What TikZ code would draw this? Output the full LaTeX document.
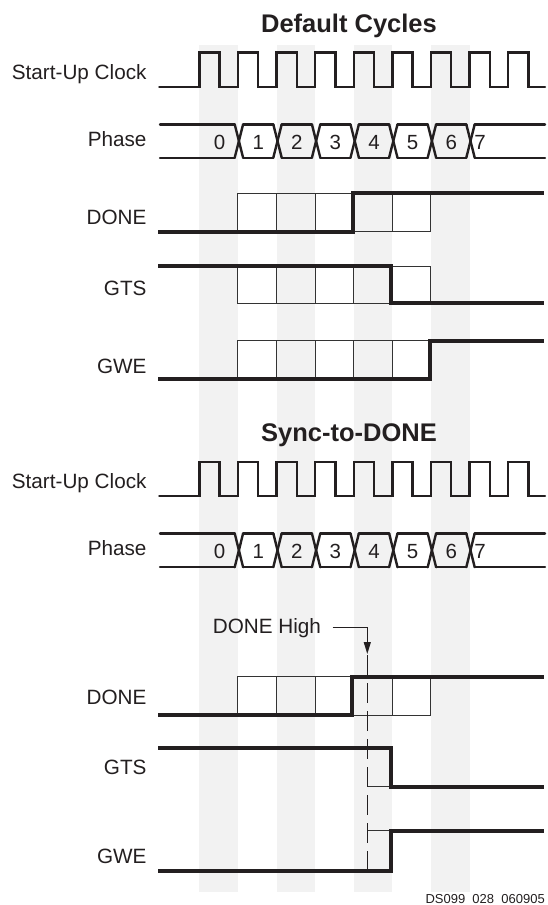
\documentclass[tikz,border=0pt]{standalone}
\usepackage{fontspec}
\setmainfont{Liberation Sans}
\usetikzlibrary{arrows.meta}
\definecolor{band}{HTML}{F2F2F2}
\definecolor{ink}{HTML}{231F20}
\definecolor{cellc}{HTML}{333333}
\newcommand\tdR{199.3}
\newcommand\tdP{38.6}
\newcommand\tdClock[2]{% high, low
  \draw[clk] (159.3,#2) \foreach \k in {0,...,8}{ -- ({\tdR+\k*\tdP},#2) -- ({\tdR+\k*\tdP},#1) -- ({\tdR+\k*\tdP+20.3},#1) -- ({\tdR+\k*\tdP+20.3},#2)} -- (545,#2);
}
\newcommand\tdPhase[3]{% top, bottom, digit baseline
  \draw[clk] (160,#1) -- ({\tdR+\tdP+1-4.2},#1);
  \draw[clk] (160,#2) -- ({\tdR+\tdP+1-4.2},#2);
  \foreach \k in {1,...,6}{
    \draw[clk] ({\tdR+\k*\tdP+1+4.2},#1) -- ({\tdR+(\k+1)*\tdP+1-4.2},#1);
    \draw[clk] ({\tdR+\k*\tdP+1+4.2},#2) -- ({\tdR+(\k+1)*\tdP+1-4.2},#2);
  }
  \draw[clk] ({\tdR+7*\tdP+1+4.2},#1) -- (545,#1);
  \draw[clk] ({\tdR+7*\tdP+1+4.2},#2) -- (545,#2);
  \foreach \k in {1,...,7}{
    \draw[clk] ({\tdR+\k*\tdP+1-4.2},#1) -- ({\tdR+\k*\tdP+1+4.2},#2);
    \draw[clk] ({\tdR+\k*\tdP+1-4.2},#2) -- ({\tdR+\k*\tdP+1+4.2},#1);
  }
  \foreach \k in {0,...,6}{
    \node[dig] (d#3\k) at ({\tdR+(\k+0.5)*\tdP+1},#3) {\k};
  }
  \node[dig] (d#3x) at ({\tdR+7*\tdP+10.5},#3) {7};
}
\newcommand\tdCells[2]{% top, bottom
  \foreach \k in {1,...,5}{
    \draw[cellbox] ({\tdR+\k*\tdP},#1) rectangle ({\tdR+(\k+1)*\tdP},#2);
  }
}
\begin{document}
\begin{tikzpicture}[x=1pt,y=-1pt,
  lbl/.style={anchor=base east, inner sep=0pt, font=\fontsize{20.7}{24}\selectfont, text=ink},
  ttl/.style={anchor=base, inner sep=0pt, font=\fontsize{25.5}{30}\selectfont\bfseries, text=ink},
  dig/.style={anchor=base, inner sep=0pt, font=\fontsize{20.5}{24}\selectfont, text=ink},
  clk/.style={line width=2.4pt, draw=ink, line cap=round, line join=miter},
  sig/.style={line width=4pt, draw=ink, line join=miter},
  thinsig/.style={line width=1pt, draw=cellc},
  cellbox/.style={line width=1pt, draw=cellc},
  dashline/.style={line width=1.3pt, draw=ink, dash pattern=on 20pt off 8pt},
  arrowline/.style={line width=1.2pt, draw=ink, -{Triangle[length=12pt,width=7pt]}},
]
\useasboundingbox (0,0) rectangle (547,905);
% background bands
\foreach \k in {0,2,4,6}{
  \fill[band] ({\tdR+\k*\tdP},45) rectangle ({\tdR+(\k+1)*\tdP},892);
}
% ---------- Default Cycles ----------
\node[ttl] (t1) at (349,32.7) {Default Cycles};
\node[lbl] (lc1) at (146.7,79) {Start-Up Clock};
\node[lbl] (lp1) at (146.7,146.7) {Phase};
\node[lbl] (ld1) at (146.7,224) {DONE};
\node[lbl] (lg1) at (146.7,295) {GTS};
\node[lbl] (lw1) at (146.7,373) {GWE};
\tdClock{52.3}{86.7}
\tdPhase{124.3}{157.7}{149.3}
\tdCells{193.3}{231.7}
\tdCells{266}{303.3}
\tdCells{340.7}{378.7}
\draw[sig] (158.3,231.7) -- ({\tdR+4*\tdP-1},231.7) -- ({\tdR+4*\tdP-1},193.3) -- (544,193.3);
\draw[sig] (158.3,266) -- ({\tdR+5*\tdP-1.5},266) -- ({\tdR+5*\tdP-1.5},303.3) -- (544,303.3);
\draw[sig] (158.3,378.7) -- ({\tdR+6*\tdP-0.5},378.7) -- ({\tdR+6*\tdP-0.5},340.7) -- (544,340.7);
% ---------- Sync-to-DONE ----------
\node[ttl] (t2) at (349,441.7) {Sync-to-DONE};
\node[lbl] (lc2) at (146.7,488) {Start-Up Clock};
\node[lbl] (lp2) at (146.7,555.7) {Phase};
\node[lbl] (ld2) at (146.7,704) {DONE};
\node[lbl] (lg2) at (146.7,774) {GTS};
\node[lbl] (lw2) at (146.7,863.3) {GWE};
\tdClock{461.8}{496.2}
\tdPhase{533.3}{567.2}{558.3}
\tdCells{676.7}{715}
\draw[thinsig] (367.3,786.7) -- ({\tdR+5*\tdP},786.7);
\draw[thinsig] (367.3,830.7) -- ({\tdR+5*\tdP},830.7);
% DONE High marker
\node[anchor=base west, inner xsep=11.3pt, inner ysep=0pt, font=\fontsize{20.7}{24}\selectfont, text=ink] (dh) at (201.4,633) {DONE High};
\coordinate (dhtip) at (367.3,654);
\coordinate (dshstart) at (367.3,655);
\coordinate (dshend) at (367.3,870);
\draw[arrowline] (dh.east) -| (dhtip);
\draw[dashline] (dshstart) -- (dshend);
\draw[sig] (158.3,715) -- ({\tdR+4*\tdP-1.5},715) -- ({\tdR+4*\tdP-1.5},676.7) -- (544,676.7);
\draw[sig] (158.3,748.3) -- ({\tdR+5*\tdP-1.5},748.3) -- ({\tdR+5*\tdP-1.5},786.7) -- (544,786.7);
\draw[sig] (158.3,871) -- ({\tdR+5*\tdP-1.5},871) -- ({\tdR+5*\tdP-1.5},830.7) -- (544,830.7);
% figure id
\node[anchor=base east, inner sep=0pt, font=\fontsize{13}{15}\selectfont, text=ink] (fid) at (545,903.5) {DS099\ \ 028\ \ 060905};
\end{tikzpicture}
\end{document}
